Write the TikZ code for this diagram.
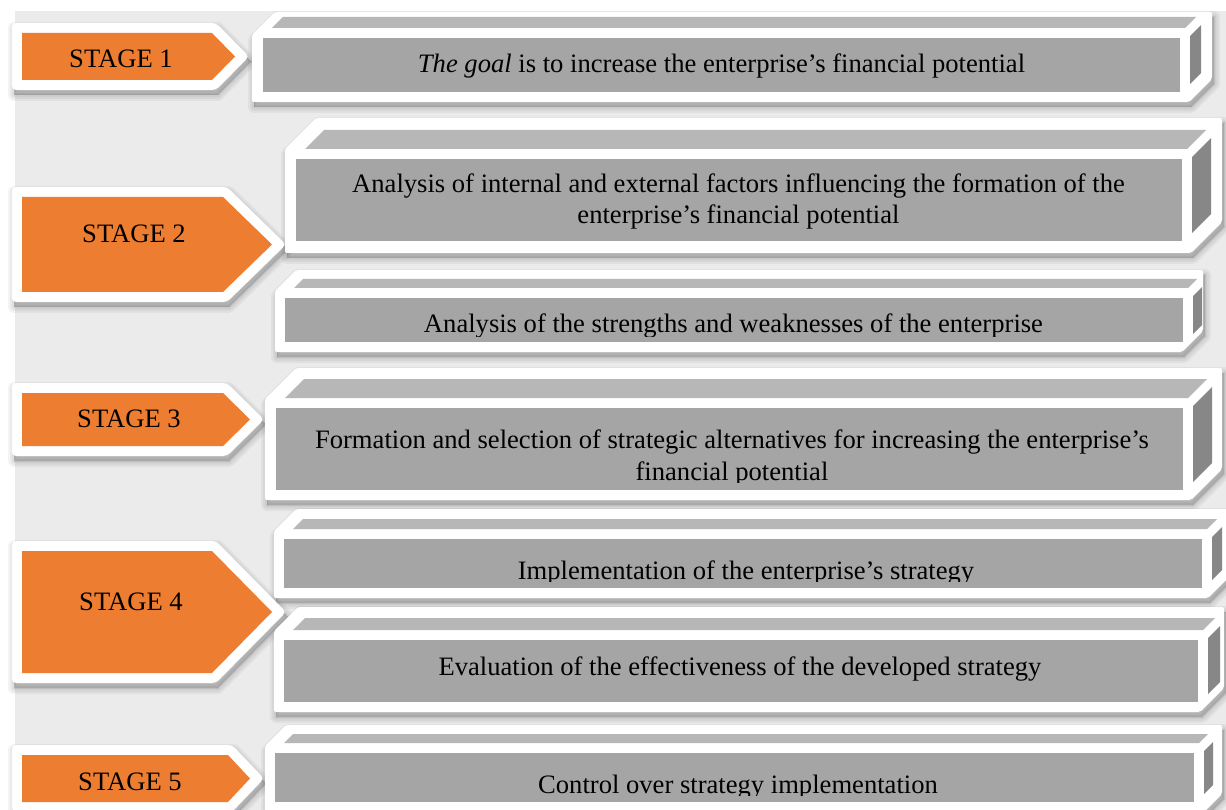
\documentclass[tikz,border=0pt]{standalone}
\usepackage{fontspec}
\setmainfont{Liberation Serif}
\pgfdeclarelayer{bglayer}
\pgfdeclarelayer{shadowlayer}
\pgfsetlayers{bglayer,shadowlayer,main}
\definecolor{bggray}{HTML}{EBEBEB}
\definecolor{stageorange}{HTML}{ED7D31}
\definecolor{frontgray}{HTML}{A5A5A5}
\definecolor{topgray}{HTML}{B7B7B7}
\definecolor{sidegray}{HTML}{878787}
\tikzset{
  shadowpart/.style={fill=black, draw=black, opacity=0.045, line join=round, shift={(2,5)}},
  boxtext/.style={font=\fontsize{26.6}{31.5}\selectfont, align=center, inner sep=0pt, anchor=base},
  stagetext/.style={font=\fontsize{26.6}{31.5}\selectfont, inner sep=0pt, anchor=base},
}
% fx0 fy0 fx1 fy1 depth x0 y0 x1 y1
\newcommand\cubebox[9]{%
  \begin{pgfonlayer}{shadowlayer}
    \foreach \w in {0,4,8,12}{
      \path[shadowpart, line width=\w pt] ({#6},{#7+#5+12}) -- ({#6+#5+12},{#7}) -- ({#8},{#7}) -- ({#8},{#9-#5-12}) -- ({#8-#5-12},{#9}) -- ({#6},{#9}) -- cycle;
    }
  \end{pgfonlayer}
  \fill[white, rounded corners=2] ({#6},{#7+#5+12}) -- ({#6+#5+12},{#7}) -- ({#8},{#7}) -- ({#8},{#9-#5-12}) -- ({#8-#5-12},{#9}) -- ({#6},{#9}) -- cycle;
  \fill[frontgray] (#1,#2) rectangle (#3,#4);
  \fill[topgray] ({#1+9},{#2-10}) -- ({#1+9+#5},{#2-10-#5}) -- ({#3+5+#5},{#2-10-#5}) -- ({#3+5},{#2-10}) -- cycle;
  \fill[sidegray] ({#3+10},{#2-2}) -- ({#3+10+#5},{#2-2-#5}) -- ({#3+10+#5},{#4-8-#5}) -- ({#3+10},{#4-8}) -- cycle;
}
% x0 y0 xs xt y1
\newcommand\stagearrow[5]{%
  \begin{pgfonlayer}{shadowlayer}
    \foreach \w in {0,4,8,12}{
      \path[shadowpart, line width=\w pt] ({#1-10},{#2-10}) -- ({#3+4},{#2-10}) -- ({#4+14},{(#2+#5)/2}) -- ({#3+4},{#5+10}) -- ({#1-10},{#5+10}) -- cycle;
    }
  \end{pgfonlayer}
  \fill[white, rounded corners=4] ({#1-10},{#2-10}) -- ({#3+4},{#2-10}) -- ({#4+14},{(#2+#5)/2}) -- ({#3+4},{#5+10}) -- ({#1-10},{#5+10}) -- cycle;
  \fill[stageorange] (#1,#2) -- (#3,#2) -- (#4,{(#2+#5)/2}) -- (#3,#5) -- (#1,#5) -- cycle;
}
\begin{document}
\begin{tikzpicture}[x=1pt,y=-1pt]
\useasboundingbox (0,0) rectangle (1226,810);
\begin{pgfonlayer}{bglayer}
  \fill[white] (0,0) rectangle (1226,810);
  \fill[bggray] (15,11) rectangle (1226,810);
\end{pgfonlayer}

% boxes
\cubebox{263}{38}{1180}{92}{11}{252}{12}{1212}{102}
\cubebox{296}{159}{1182}{241}{19}{285}{118}{1222}{253}
\cubebox{285}{298}{1183}{342}{9}{275}{270}{1203}{352}
\cubebox{276}{408}{1183}{490}{19}{265}{368}{1222}{500}
\cubebox{284}{539}{1202}{588}{10}{274}{509}{1230}{598}
\cubebox{284}{640}{1198}{702}{12}{274}{607}{1224}{712}
\cubebox{275}{753}{1194}{802}{9}{265}{725}{1222}{815}

% stages
\stagearrow{22}{33}{212}{235}{80}
\stagearrow{22}{197}{223}{272}{292}
\stagearrow{22}{393}{223}{250}{446}
\stagearrow{22}{551}{212}{272}{673}
\stagearrow{22}{755}{228}{250}{802}

\node[stagetext] (s1) at (121,68) {STAGE 1};
\node[stagetext] (s2) at (134,243) {STAGE 2};
\node[stagetext] (s3) at (129,427) {STAGE 3};
\node[stagetext] (s4) at (131,610) {STAGE 4};
\node[stagetext] (s5) at (130,790) {STAGE 5};

\node[boxtext] (b1) at (721.5,73) {\textit{The goal} is to increase the enterprise's financial potential};
\node[boxtext] (b2) at (738.5,224) {Analysis of internal and external factors influencing the formation of the\\enterprise's financial potential};
\begin{scope}
  \clip (285,298) rectangle (1183,336);
  \node[boxtext] (b3) at (733.5,333) {Analysis of the strengths and weaknesses of the enterprise};
\end{scope}
\begin{scope}
  \clip (276,408) rectangle (1183,482);
  \node[boxtext] (b4) at (732,480) {Formation and selection of strategic alternatives for increasing the enterprise's\\financial potential};
\end{scope}
\begin{scope}
  \clip (284,539) rectangle (1202,581);
  \node[boxtext] (b5) at (746,579) {Implementation of the enterprise's strategy};
\end{scope}
\node[boxtext] (b6) at (740,675) {Evaluation of the effectiveness of the developed strategy};
\begin{scope}
  \clip (275,753) rectangle (1194,795);
  \node[boxtext] (b7) at (738,793) {Control over strategy implementation};
\end{scope}
\end{tikzpicture}
\end{document}
